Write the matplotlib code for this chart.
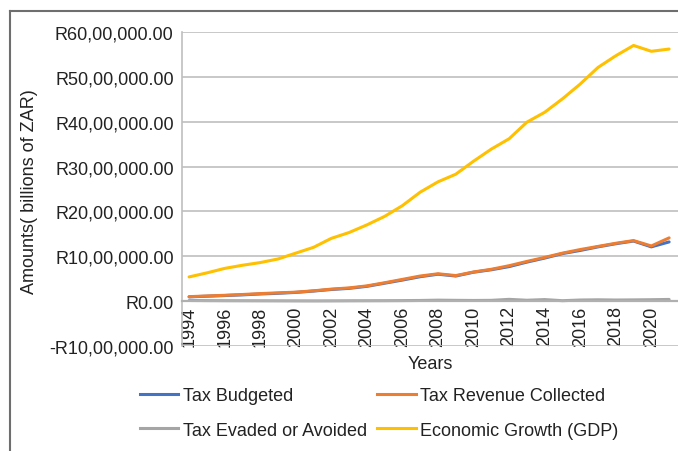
import matplotlib
matplotlib.use("Agg")
import matplotlib.pyplot as plt
from matplotlib.lines import Line2D
from matplotlib.ticker import FuncFormatter, FixedLocator

plt.rcParams['font.family'] = ['Liberation Sans', 'DejaVu Sans']

years = list(range(1994, 2022))
tax_budgeted = [95000, 110000, 125000, 140000, 160000, 175000, 195000, 225000, 260000, 285000,
                330000, 400000, 470000, 545000, 600000, 560000, 645000, 700000, 770000, 870000,
                960000, 1060000, 1130000, 1210000, 1280000, 1340000, 1210000, 1320000]
tax_revenue = [100000, 115000, 130000, 148000, 168000, 185000, 200000, 230000, 268000, 295000,
               340000, 410000, 485000, 560000, 610000, 570000, 650000, 710000, 790000, 885000,
               975000, 1070000, 1150000, 1220000, 1290000, 1350000, 1230000, 1410000]
tax_evaded = [15000, 12000, 10000, 9000, 8000, 7000, 6000, 5000, 6000, 8000,
              9000, 10000, 12000, 15000, 22000, 18000, 15000, 18000, 40000, 20000,
              35000, 10000, 25000, 30000, 25000, 28000, 32000, 38000]
gdp = [540000, 630000, 730000, 800000, 860000, 940000, 1070000, 1200000, 1400000, 1530000,
       1700000, 1890000, 2130000, 2430000, 2660000, 2830000, 3120000, 3390000, 3620000, 3990000,
       4210000, 4510000, 4840000, 5210000, 5470000, 5700000, 5570000, 5620000]
tick_years = list(range(1994, 2021, 2))

series_names = ["Tax Budgeted", "Tax Revenue Collected", "Tax Evaded or Avoided", "Economic Growth (GDP)"]
colors = ["#4472C4", "#ED7D31", "#A5A5A5", "#FFC000"]


def indian_fmt(v, pos=None):
    neg = v < 0
    n = int(round(abs(v)))
    s = str(n)
    if len(s) > 3:
        head, tail = s[:-3], s[-3:]
        groups = []
        while len(head) > 2:
            groups.insert(0, head[-2:])
            head = head[:-2]
        if head:
            groups.insert(0, head)
        s = ",".join(groups) + "," + tail
    return ("-" if neg else "") + "R" + s + ".00"


FS = 13
fig = plt.figure(figsize=(6.78, 4.52), dpi=100)
ax = fig.add_axes([182 / 678, 1 - 347 / 452, 1 - 182 / 678, (347 - 33) / 452])

data = [tax_budgeted, tax_revenue, tax_evaded, gdp]
for vals, c, name in zip(data, colors, series_names):
    ax.plot(years, vals, color=c, lw=2.2, label=name, solid_capstyle='round')

ax.set_xlim(1993.6, 2021.5)
ax.set_ylim(-1000000, 6000000)
ax.yaxis.set_major_locator(FixedLocator([-1000000 + 1000000 * i for i in range(8)]))
ax.yaxis.set_major_formatter(FuncFormatter(indian_fmt))
ax.set_xticks(tick_years)
ax.set_xticklabels([str(y) for y in tick_years])
ax.grid(axis='y', color='#BFBFBF', lw=1.2)
ax.set_axisbelow(True)
for s in ['top', 'right']:
    ax.spines[s].set_visible(False)
ax.spines['bottom'].set_position(('data', 0))
ax.spines['bottom'].set_color('#B0B0B0')
ax.spines['bottom'].set_linewidth(1.6)
ax.spines['left'].set_color('#BFBFBF')
ax.spines['left'].set_linewidth(1.2)
ax.tick_params(axis='both', length=0, labelsize=FS, colors='#222222')
ax.tick_params(axis='y', pad=6)
ax.tick_params(axis='x', pad=3, labelrotation=90)

fig.text(430 / 678, 1 - 365 / 452, "Years", ha='center', va='center', fontsize=FS, color='#222222')
fig.text(30 / 678, 1 - 192 / 452, "Amounts( billions of ZAR)", rotation=90, ha='center', va='center',
         fontsize=FS, color='#222222')

# legend filled row-wise: matplotlib fills by column, so reorder
order = [0, 2, 1, 3]
handles = [Line2D([0], [0], color=colors[i], lw=2.2) for i in order]
labels = [series_names[i] for i in order]
fig.legend(handles, labels, loc='center', bbox_to_anchor=(379 / 678, 1 - 414 / 452), ncol=2,
           frameon=False, fontsize=FS, handlelength=2.15, handletextpad=0.25, columnspacing=0.55,
           labelspacing=0.95, labelcolor='#222222')

# outer frame (partially visible)
fig.add_artist(Line2D([10 / 678, 1.0], [1 - 12 / 452, 1 - 12 / 452], transform=fig.transFigure,
                      color='#6E6E6E', lw=1.5))
fig.add_artist(Line2D([10 / 678, 10 / 678], [1 - 12 / 452, 0.0], transform=fig.transFigure,
                      color='#6E6E6E', lw=1.5))

fig.savefig("out.png", dpi=100)
